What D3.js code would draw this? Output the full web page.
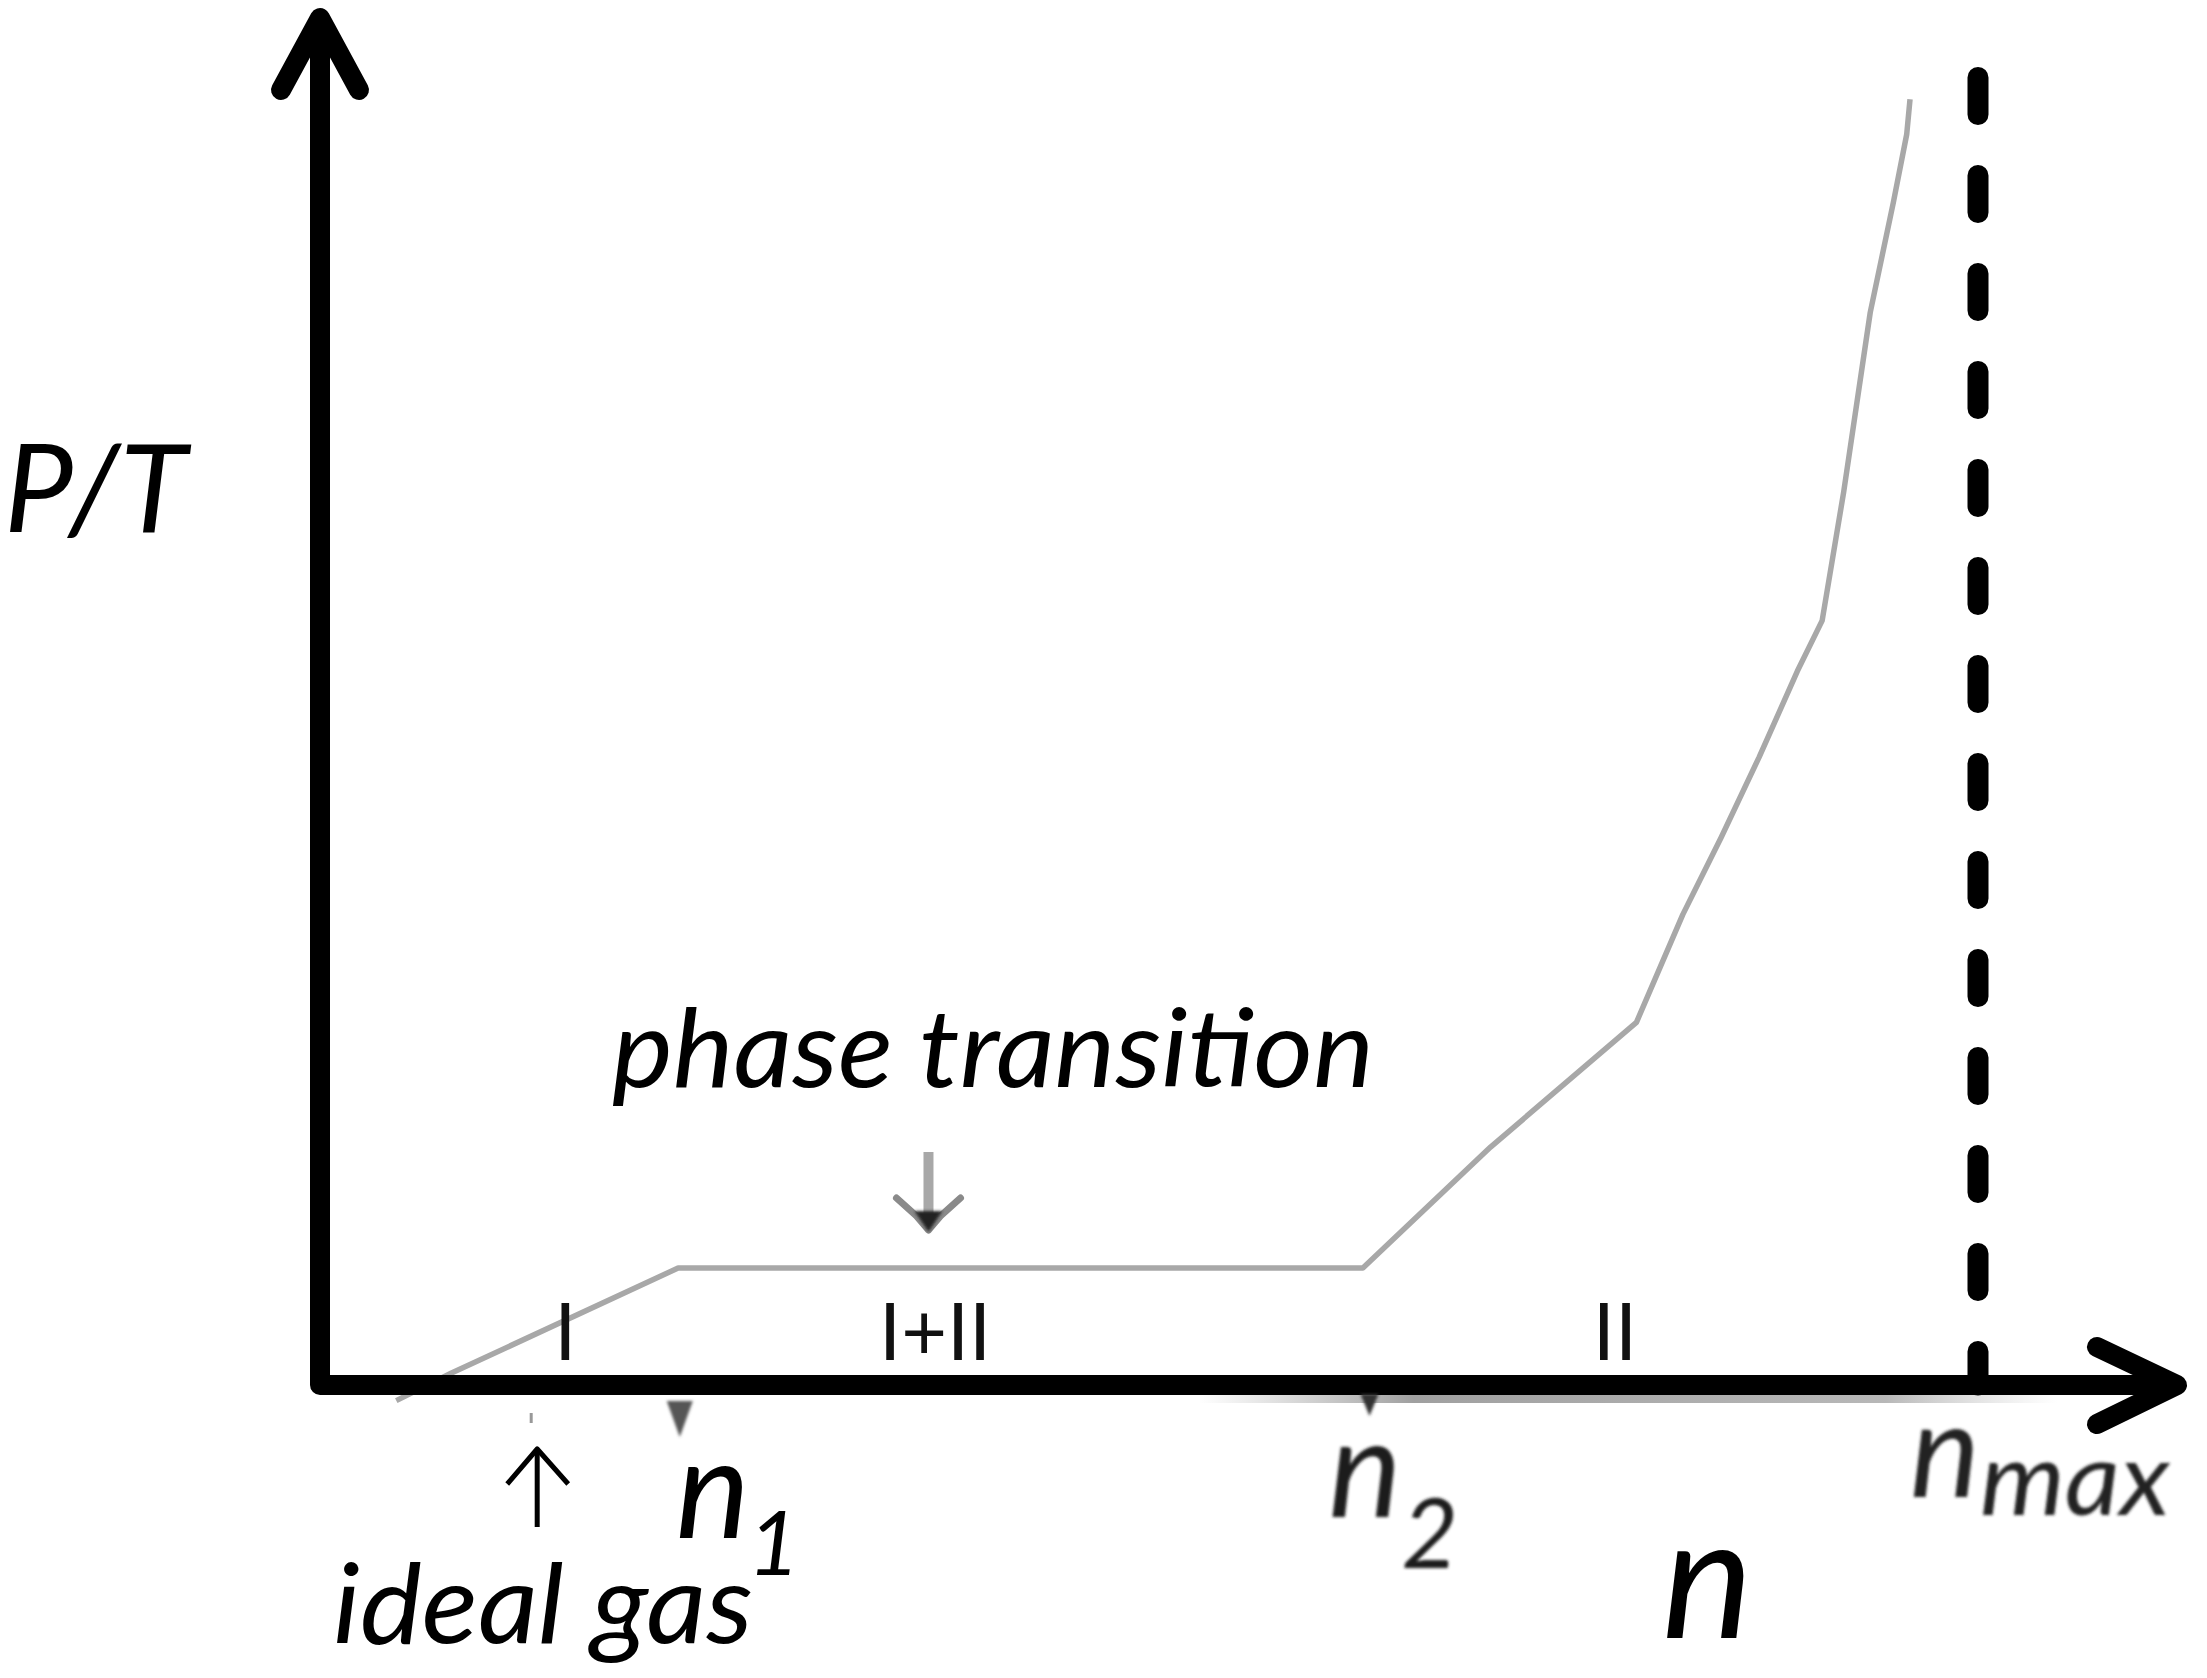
<!DOCTYPE html>
<html>
<head>
<meta charset="utf-8">
<script src="https://cdn.jsdelivr.net/npm/d3@7"></script>
<style>
  html, body { margin: 0; padding: 0; background: #fff; }
  svg { display: block; }
  .lbl { font-family: Lato, "Open Sans", sans-serif; }
</style>
</head>
<body>
<div id="chart"></div>
<script>
// curve P/T versus n (n in % of n_max, P/T arbitrary units)
const curveN  = [4.6, 7.9, 21.6, 62.9, 70.6, 79.4, 82.2, 84.5, 86.8, 89.1, 90.6, 91.9, 93.5, 94.9, 95.7, 95.9];
const curvePT = [-1.2, 0.9, 9.0, 9.0, 18.3, 27.9, 36.2, 42.1, 48.3, 54.9, 58.8, 68.7, 82.5, 91.0, 96.2, 98.9];

// special densities
const nIdeal = 13.1;
const nOne = 21.7;
const nTwo = 63.3;
const nMax = 100;
const nTransition = 36.7;

// phase region labels
const regionText = ['I', 'I+II', 'II'];
const regionN = [14.8, 37.1, 78.1];

document.addEventListener('DOMContentLoaded', function () {
    const width = 2207, height = 1678;

    const svg = d3.select('#chart').append('svg')
        .attr('width', width)
        .attr('height', height);

    const x = d3.scaleLinear().domain([0, 100]).range([320, 1978]);
    const y = d3.scaleLinear().domain([0, 100]).range([1385, 85]);

    const nEnd = x.invert(2177);
    const ptEnd = y.invert(18);

    const defs = svg.append('defs');
    defs.append('filter').attr('id', 'soft')
        .append('feGaussianBlur').attr('stdDeviation', 1.4);
    const grad = defs.append('linearGradient').attr('id', 'shadow')
        .attr('x1', '0%').attr('x2', '100%');
    grad.append('stop').attr('offset', '0%').attr('stop-color', '#999').attr('stop-opacity', 0);
    grad.append('stop').attr('offset', '25%').attr('stop-color', '#888').attr('stop-opacity', 0.8);
    grad.append('stop').attr('offset', '80%').attr('stop-color', '#999').attr('stop-opacity', 0.7);
    grad.append('stop').attr('offset', '100%').attr('stop-color', '#bbb').attr('stop-opacity', 0);

    // gray shadow under the x axis
    svg.append('rect')
        .attr('x', x(53)).attr('y', y(0) + 8)
        .attr('width', x(104.8) - x(53)).attr('height', 10)
        .attr('fill', 'url(#shadow)');

    // the curve
    const pts = curveN.map((n, i) => [n, curvePT[i]]);
    const line = d3.line().x(d => x(d[0])).y(d => y(d[1]));
    svg.append('path')
        .datum(pts)
        .attr('d', line)
        .attr('fill', 'none')
        .attr('stroke', '#a8a8a8')
        .attr('stroke-width', 5.5)
        .attr('stroke-linejoin', 'round');

    // axes as one L-shaped path with open arrow heads
    const axisPath = d3.path();
    axisPath.moveTo(x(0), y(ptEnd));
    axisPath.lineTo(x(0), y(0));
    axisPath.lineTo(x(nEnd), y(0));
    svg.append('path')
        .attr('d', axisPath.toString())
        .attr('fill', 'none')
        .attr('stroke', '#000')
        .attr('stroke-width', 20)
        .attr('stroke-linejoin', 'round');

    const head = (pts) => d3.line()(pts);
    svg.append('path')
        .attr('d', head([[x(0) - 39, y(ptEnd) + 72], [x(0), y(ptEnd)], [x(0) + 39, y(ptEnd) + 72]]))
        .attr('fill', 'none').attr('stroke', '#000').attr('stroke-width', 20)
        .attr('stroke-linecap', 'round').attr('stroke-linejoin', 'round');
    svg.append('path')
        .attr('d', head([[x(nEnd) - 80, y(0) - 38], [x(nEnd), y(0)], [x(nEnd) - 80, y(0) + 39]]))
        .attr('fill', 'none').attr('stroke', '#000').attr('stroke-width', 20)
        .attr('stroke-linecap', 'round').attr('stroke-linejoin', 'round');

    // dashed n_max line
    svg.append('line')
        .attr('x1', x(nMax)).attr('x2', x(nMax))
        .attr('y1', 77.5).attr('y2', y(0))
        .attr('stroke', '#000')
        .attr('stroke-width', 21)
        .attr('stroke-linecap', 'round')
        .attr('stroke-dasharray', '37 61');

    // small marks below the axis
    svg.append('path')
        .attr('d', head([[x(nOne) - 13, y(0) + 16], [x(nOne) + 13, y(0) + 16], [x(nOne), y(0) + 52]]) + 'Z')
        .attr('fill', '#555').attr('filter', 'url(#soft)');
    svg.append('path')
        .attr('d', head([[x(nTwo) - 9, y(0) + 9], [x(nTwo) + 9, y(0) + 9], [x(nTwo), y(0) + 31]]) + 'Z')
        .attr('fill', '#333').attr('filter', 'url(#soft)');
    svg.append('line')
        .attr('x1', x(nIdeal) - 6).attr('x2', x(nIdeal) - 6)
        .attr('y1', y(0) + 28).attr('y2', y(0) + 38)
        .attr('stroke', '#999').attr('stroke-width', 3);

    // ideal gas arrow (pointing up)
    svg.append('path')
        .attr('d', head([[x(nIdeal), y(0) + 142], [x(nIdeal), y(0) + 64]]))
        .attr('fill', 'none').attr('stroke', '#000').attr('stroke-width', 5);
    svg.append('path')
        .attr('d', head([[x(nIdeal) - 30, y(0) + 99], [x(nIdeal), y(0) + 64], [x(nIdeal) + 31, y(0) + 99]]))
        .attr('fill', 'none').attr('stroke', '#000').attr('stroke-width', 5)
        .attr('stroke-linejoin', 'round');

    // phase transition arrow (pointing down)
    const xt = x(nTransition);
    svg.append('line')
        .attr('x1', xt).attr('x2', xt)
        .attr('y1', 1152).attr('y2', 1220)
        .attr('stroke', '#a8a8a8').attr('stroke-width', 10);
    svg.append('path')
        .attr('d', head([[xt - 32, 1198], [xt - 12, 1216], [xt, 1230], [xt + 12, 1216], [xt + 32, 1198]]))
        .attr('fill', 'none').attr('stroke', '#8a8a8a').attr('stroke-width', 7)
        .attr('stroke-linejoin', 'round').attr('stroke-linecap', 'round');
    svg.append('path')
        .attr('d', head([[xt - 14, 1211], [xt + 14, 1211], [xt, 1232]]) + 'Z')
        .attr('fill', '#222').attr('filter', 'url(#soft)');

    // labels
    const txt = (tx, ty, s, size, opts = {}) => {
        const t = svg.append('text')
            .attr('class', 'lbl')
            .attr('x', tx).attr('y', ty)
            .attr('font-size', size)
            .attr('font-style', opts.italic === false ? 'normal' : 'italic')
            .attr('fill', opts.fill || '#000')
            .attr('text-anchor', opts.anchor || 'start')
            .text(s);
        if (opts.len) t.attr('textLength', opts.len).attr('lengthAdjust', 'spacingAndGlyphs');
        if (opts.blur) t.attr('filter', 'url(#soft)');
        return t;
    };

    txt(4, 532, 'P/T', 123);
    txt(612, 1087, 'phase transition', 108, { len: 762 });
    txt(333, 1643, 'ideal gas', 110, { len: 420 });

    regionText.forEach((s, i) => {
        txt(x(regionN[i]), y(0) - 25, s, 79, { italic: false, anchor: 'middle', fill: '#111' });
    });

    // n1
    txt(x(nOne) - 4, 1538, 'n', 140);
    txt(x(nOne) + 68, 1575, '1', 90);
    // n2
    txt(x(nTwo) - 41, 1517, 'n', 138, { fill: '#1a1a1a', blur: true });
    txt(x(nTwo) + 32, 1568, '2', 98, { fill: '#1a1a1a', blur: true });
    // n_max
    txt(x(nMax) - 68, 1497, 'n', 132, { fill: '#222', blur: true });
    txt(x(nMax) + 2, 1515, 'max', 103, { fill: '#222', blur: true, len: 190 });
    // axis name
    txt(1662, 1638, 'n', 172);
});
</script>
</body>
</html>
